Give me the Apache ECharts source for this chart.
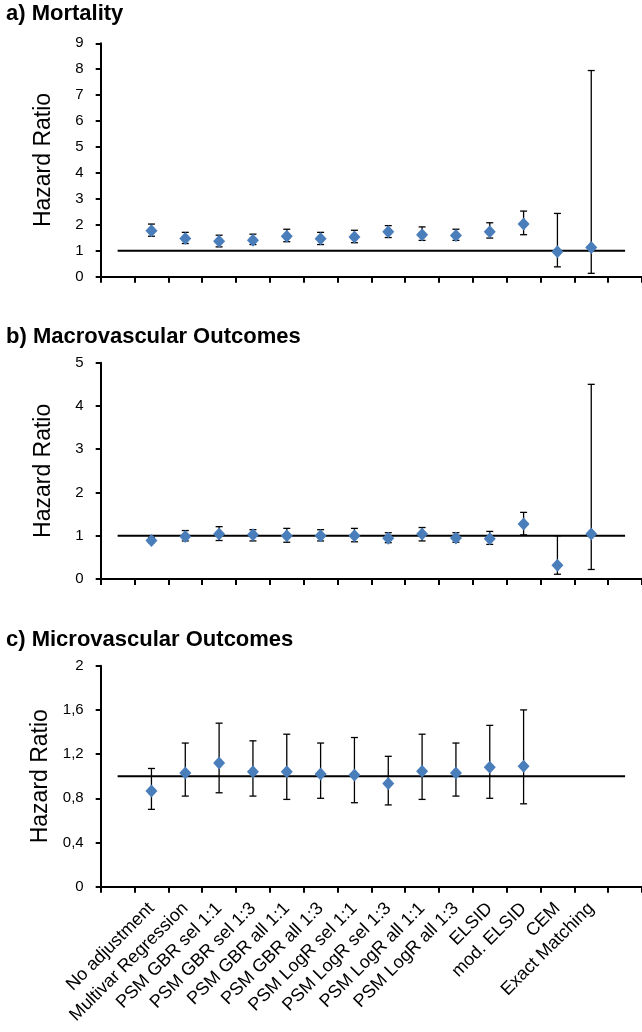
<!DOCTYPE html>
<html>
<head>
<meta charset="utf-8">
<script src="https://cdn.jsdelivr.net/npm/echarts@6/dist/echarts.min.js"></script>
<style>
  html, body { margin: 0; padding: 0; background: #fff; }
  #main { width: 642px; height: 1032px; }
</style>
</head>
<body>
<div id="main"></div>
<script>
// categories (first and last slot are empty, as in the original figure)
var categories = ['', 'No adjustment', 'Multivar Regression', 'PSM GBR sel 1:1', 'PSM GBR sel 1:3',
    'PSM GBR all 1:1', 'PSM GBR all 1:3', 'PSM LogR sel 1:1', 'PSM LogR sel 1:3',
    'PSM LogR all 1:1', 'PSM LogR all 1:3', 'ELSID', 'mod. ELSID', 'CEM', 'Exact Matching', ''];

var panelTitles = ['a) Mortality', 'b) Macrovascular Outcomes', 'c) Microvascular Outcomes'];
var refValue = 1;

// a) mortality
var mortHR   = [1.77, 1.47, 1.37, 1.41, 1.56, 1.46, 1.53, 1.73, 1.62, 1.59, 1.73, 2.03, 0.96, 1.13];
var mortLow  = [1.56, 1.28, 1.15, 1.24, 1.35, 1.24, 1.31, 1.51, 1.40, 1.40, 1.49, 1.62, 0.38, 0.13];
var mortHigh = [2.03, 1.71, 1.60, 1.64, 1.83, 1.71, 1.79, 1.97, 1.92, 1.83, 2.08, 2.53, 2.44, 7.95];

// b) macrovascular
var macroHR   = [0.89, 0.98, 1.04, 1.02, 1.00, 1.00, 1.00, 0.94, 1.04, 0.95, 0.93, 1.27, 0.32, 1.04];
var macroLow  = [0.84, 0.88, 0.89, 0.88, 0.85, 0.88, 0.86, 0.84, 0.88, 0.85, 0.80, 1.02, 0.11, 0.22];
var macroHigh = [0.96, 1.12, 1.21, 1.14, 1.17, 1.14, 1.17, 1.07, 1.19, 1.07, 1.10, 1.54, 1.00, 4.50];

// c) microvascular (no estimate for CEM / Exact Matching)
var microHR   = [0.865, 1.03, 1.12, 1.04, 1.04, 1.02, 1.01, 0.935, 1.045, 1.03, 1.08, 1.09];
var microLow  = [0.70, 0.82, 0.85, 0.82, 0.79, 0.80, 0.76, 0.74, 0.79, 0.82, 0.80, 0.75];
var microHigh = [1.07, 1.30, 1.48, 1.32, 1.38, 1.30, 1.35, 1.18, 1.38, 1.30, 1.46, 1.60];

var yMax = [9, 5, 2];
var yStep = [1, 1, 0.4];

var font = "'Liberation Sans', Arial, sans-serif";
var blue = '#4a7ebb';

function errorBar(params, api) {
    var x = api.value(0);
    var lo = api.coord([x, api.value(1)]);
    var hi = api.coord([x, api.value(2)]);
    var w = 3.5;
    var st = { stroke: '#000', lineWidth: 1.3 };
    return {
        type: 'group',
        children: [
            { type: 'line', shape: { x1: lo[0], y1: lo[1], x2: hi[0], y2: hi[1] }, style: st },
            { type: 'line', shape: { x1: lo[0] - w, y1: lo[1], x2: lo[0] + w, y2: lo[1] }, style: st },
            { type: 'line', shape: { x1: hi[0] - w, y1: hi[1], x2: hi[0] + w, y2: hi[1] }, style: st }
        ]
    };
}

function toBars(lo, hi) {
    var out = [];
    for (var i = 0; i < lo.length; i++) out.push([i + 1, lo[i], hi[i]]);
    return out;
}
function toPoints(hr) {
    var out = [];
    for (var i = 0; i < hr.length; i++) out.push([i + 1, hr[i]]);
    return out;
}

var grids = [
    { left: 100.7, right: -3.5, top: 43.3, height: 233.4 },
    { left: 100.7, right: -3.5, top: 362.7, height: 216.3 },
    { left: 100.7, right: -3.5, top: 665.7, height: 221 }
];
var titleTops = [2.5, 326, 629];

var xAxes = [], yAxes = [], series = [], titles = [];
var panels = [[mortHR, mortLow, mortHigh], [macroHR, macroLow, macroHigh], [microHR, microLow, microHigh]];

for (var p = 0; p < 3; p++) {
    titles.push({
        text: panelTitles[p], left: 6, top: titleTops[p], padding: 0,
        textStyle: { fontFamily: font, fontSize: 22, fontWeight: 'bold', color: '#000' }
    });
    xAxes.push({
        type: 'category', gridIndex: p, data: categories,
        axisLine: { lineStyle: { color: '#000', width: 2 } },
        axisTick: { show: true, interval: 0, length: 6, lineStyle: { color: '#000', width: 2 } },
        axisLabel: p === 2 ? {
            interval: 0, rotate: 45, margin: 19, color: '#000',
            fontFamily: font, fontSize: 18
        } : { show: false, interval: 0 },
        splitLine: { show: false }
    });
    yAxes.push({
        type: 'value', gridIndex: p, min: 0, max: yMax[p], interval: yStep[p],
        name: 'Hazard Ratio', nameLocation: 'middle', nameGap: 46,
        nameTextStyle: { fontFamily: font, fontSize: 23, color: '#000' },
        axisLine: { show: true, lineStyle: { color: '#000', width: 2 } },
        axisTick: { show: true, length: 5, lineStyle: { color: '#000', width: 2 } },
        axisLabel: {
            margin: 17, color: '#000', fontFamily: font, fontSize: 15,
            formatter: function (v) { return String(Math.round(v * 10) / 10).replace('.', ','); }
        },
        splitLine: { show: false }
    });
    series.push({
        type: 'line', xAxisIndex: p, yAxisIndex: p,
        data: categories.map(function () { return refValue; }),
        symbol: 'none', lineStyle: { color: '#000', width: 2 }, z: 2, silent: true
    });
    series.push({
        type: 'custom', xAxisIndex: p, yAxisIndex: p,
        renderItem: errorBar, data: toBars(panels[p][1], panels[p][2]),
        encode: { x: 0, y: [1, 2] }, z: 3, silent: true
    });
    series.push({
        type: 'scatter', xAxisIndex: p, yAxisIndex: p,
        data: toPoints(panels[p][0]), symbol: 'diamond', symbolSize: [12, 13],
        itemStyle: { color: blue, opacity: 1 }, z: 4
    });
}

var chart = echarts.init(document.getElementById('main'));
chart.setOption({
    animation: false,
    title: titles,
    grid: grids,
    xAxis: xAxes,
    yAxis: yAxes,
    series: series
});
</script>
</body>
</html>
